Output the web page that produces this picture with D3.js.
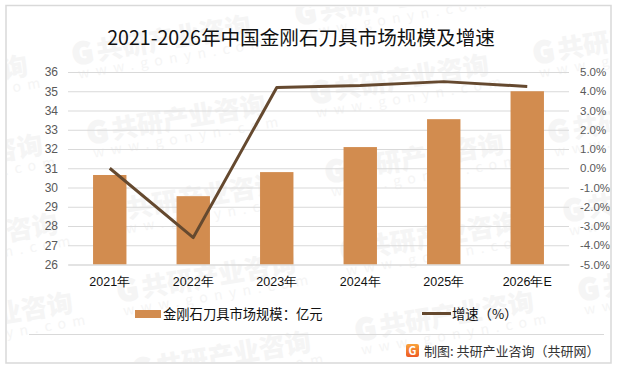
<!DOCTYPE html>
<html>
<head>
<meta charset="utf-8">
<script src="https://cdn.jsdelivr.net/npm/d3@7/dist/d3.min.js"></script>
<style>
  html, body { margin: 0; padding: 0; background: #fff; }
  svg { display: block; font-family: "Noto Sans CJK SC", "Noto Sans", sans-serif; }
</style>
</head>
<body>
<svg id="chart" width="617" height="372"></svg>
<script>
// Bars plus growth line on a second axis, with the repeating site watermark behind.
const YEARS = ['2021年', '2022年', '2023年', '2024年', '2025年', '2026年E'];
const MARKET_SIZE = [30.65, 29.55, 30.8, 32.1, 33.55, 35.0];
const GROWTH = [0.0, -3.6, 4.2, 4.3, 4.5, 4.25];
const LEFT_TICKS = [26, 27, 28, 29, 30, 31, 32, 33, 34, 35, 36];
const RIGHT_TICKS = [-5, -4, -3, -2, -1, 0, 1, 2, 3, 4, 5];

const TITLE = '2021-2026年中国金刚石刀具市场规模及增速';
const BAR_LABEL = '金刚石刀具市场规模：亿元';
const LINE_LABEL = '增速（%）';
const SOURCE = '制图: 共研产业咨询（共研网）';

const BAR = '#D28C4F';
const LINE = '#65492F';
const RULE = '#D9D9D9';
const MUTE = '#595959';
const INK = '#111111';
const MARK = '#F5F5F5';

const svg = d3.select('#chart');
const defs = svg.append('defs');
svg.append('rect').attr('x', 6).attr('y', 5.5).attr('width', 605).attr('height', 357.5)
  .attr('fill', '#fff').attr('stroke', RULE).attr('stroke-width', 1.5);

drawWatermarks();

const m = { top: 72, right: 48, bottom: 107.5, left: 68 };
const iw = 617 - m.left - m.right;
const ih = 372 - m.top - m.bottom;
const root = svg.append('g').attr('transform', `translate(${m.left},${m.top})`);

const x = d3.scaleBand().domain(YEARS).range([0, iw]).paddingInner(0.6).paddingOuter(0.3);
const yLeft = d3.scaleLinear().domain([26, 36]).range([ih, 0]);
const yRight = d3.scaleLinear().domain([-5, 5]).range([ih, 0]);

root.append('g')
  .call(d3.axisLeft(yLeft).tickValues(LEFT_TICKS).tickSize(0).tickPadding(10).tickFormat(d3.format('d')))
  .call(g => g.select('.domain').remove())
  .call(g => g.selectAll('text').attr('fill', MUTE).style('font-size', '12px'))
  .call(g => g.selectAll('.tick line').attr('x2', iw).attr('stroke', RULE).attr('stroke-width', 1.2));

root.append('g').attr('transform', `translate(${iw},0)`)
  .call(d3.axisRight(yRight).tickValues(RIGHT_TICKS).tickSize(0).tickPadding(11).tickFormat(d => d.toFixed(1) + '%'))
  .call(g => g.select('.domain').remove())
  .call(g => g.selectAll('text').attr('fill', MUTE).style('font-size', '11.5px'));

root.selectAll('rect.bar').data(MARKET_SIZE).join('rect').attr('class', 'bar')
  .attr('x', (d, i) => x(YEARS[i]))
  .attr('width', x.bandwidth())
  .attr('y', d => yLeft(d))
  .attr('height', d => ih - yLeft(d))
  .attr('fill', BAR);

root.append('g').attr('transform', `translate(0,${ih})`)
  .call(d3.axisBottom(x).tickSize(0).tickPadding(13))
  .call(g => g.select('.domain').attr('stroke', RULE).attr('stroke-width', 1.2))
  .call(g => g.selectAll('text').attr('fill', INK).style('font-size', '12.5px'));

const line = d3.line().x((d, i) => x(YEARS[i]) + x.bandwidth() / 2).y(d => yRight(d));
root.append('path').datum(GROWTH).attr('fill', 'none').attr('stroke', LINE)
  .attr('stroke-width', 3).attr('stroke-linejoin', 'round').attr('d', line);

svg.append('text').attr('x', 301).attr('y', 45).attr('text-anchor', 'middle')
  .attr('fill', INK).style('font-size', '19.6px').text(TITLE);

// legend
svg.append('rect').attr('x', 135).attr('y', 310).attr('width', 26).attr('height', 8).attr('fill', BAR);
svg.append('text').attr('x', 163).attr('y', 319).attr('fill', INK).style('font-size', '13.3px').text(BAR_LABEL);
svg.append('line').attr('x1', 422).attr('x2', 451).attr('y1', 313.5).attr('y2', 313.5)
  .attr('stroke', LINE).attr('stroke-width', 3);
svg.append('text').attr('x', 452).attr('y', 319).attr('fill', INK).style('font-size', '13.3px').text(LINE_LABEL);

// footer
svg.append('line').attr('x1', 29).attr('x2', 604).attr('y1', 334.5).attr('y2', 334.5)
  .attr('stroke', RULE).attr('stroke-width', 1);
const grad = defs.append('linearGradient').attr('id', 'logo')
  .attr('x1', 0).attr('y1', 0).attr('x2', 0).attr('y2', 1);
grad.append('stop').attr('offset', 0).attr('stop-color', '#F9A23B');
grad.append('stop').attr('offset', 1).attr('stop-color', '#EE5A24');
svg.append('rect').attr('x', 406).attr('y', 344).attr('width', 13).attr('height', 13).attr('rx', 2).attr('fill', 'url(#logo)');
svg.append('text').attr('x', 412.5).attr('y', 354.5).attr('text-anchor', 'middle').attr('fill', '#fff')
  .style('font-size', '11px').style('font-weight', '700').text('G');
svg.append('text').attr('x', 424).attr('y', 356).attr('fill', '#333').style('font-size', '13px').text(SOURCE);

function drawWatermarks() {
  defs.append('clipPath').attr('id', 'frame').append('rect')
    .attr('x', 7).attr('y', 6).attr('width', 603).attr('height', 356);
  const wm = svg.append('g').attr('fill', MARK).attr('clip-path', 'url(#frame)');
  for (let col = -1; col < 3; col++) {
    for (let row = 0; row < 5; row++) {
      const px = 75 + col * 223 + row * 15;
      const py = 55 - col * 40 + row * 79;
      if (py > 385) continue;
      const g = wm.append('g').attr('transform', `translate(${px},${py}) rotate(-9.5)`);
      g.append('text').attr('x', -3).attr('y', 10).style('font-size', '29px').style('font-weight', '900')
        .attr('stroke', MARK).attr('stroke-width', 1.5).text('G');
      g.append('text').attr('x', 22).attr('y', 9).style('font-size', '26px').style('font-weight', '900').text('共研产业咨询');
      g.append('text').attr('x', 0).attr('y', 24).style('font-size', '14px').style('letter-spacing', '6.5px').text('www.gonyn.com');
    }
  }
}
</script>
</body>
</html>
